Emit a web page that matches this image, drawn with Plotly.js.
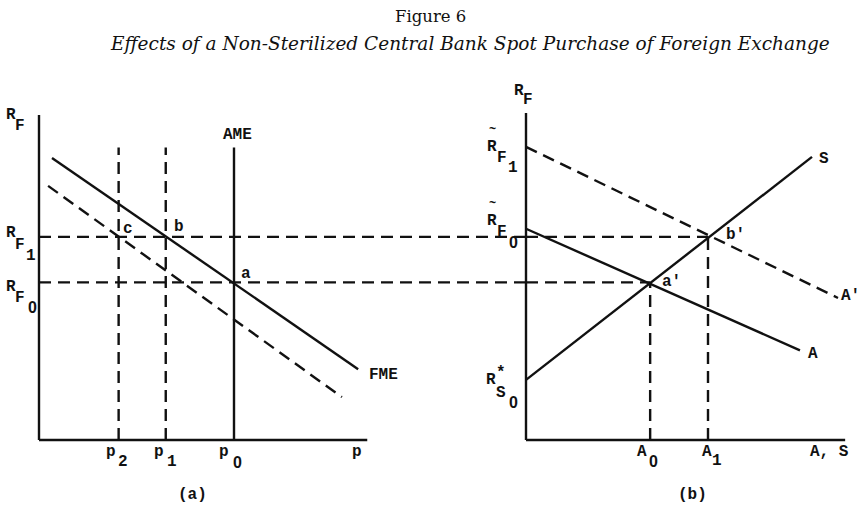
<!DOCTYPE html>
<html>
<head>
<meta charset="utf-8">
<script src="https://cdn.plot.ly/plotly-3.0.1.min.js"></script>
<style>html,body{margin:0;padding:0;background:#fff;}#chart{width:861px;height:505px;}</style>
</head>
<body>
<div id="chart"></div>
<script>
// ---------- data (economic units) ----------
// Panel (a)
var fmeX = [0.4, 9.82];
var fmeY = [8.68, 2.18];
var fmeShiftX = [0.28, 9.32];
var fmeShiftY = [7.82, 1.32];
var pValues = [2.45, 3.9, 6.0];          // p2, p1, p0 (AME)
var pLabels = ["p", "p", "p"];
var pSubs = ["2", "1", "0"];
var verticalTop = 9.0;
var rfValues = [4.85, 6.25];             // RF0, RF1
var axisATop = 10.0, axisARight = 10.1;
var leftRangeEnd = 487 / 32.5;           // reaches panel (b) axis
// Panel (b)
var sX = [0, 8.8];
var sY = [1.85, 8.71];
var aX = [0, 8.43];
var aY = [6.5, 2.76];
var aPrimeX = [0, 9.6];
var aPrimeY = [9.02, 4.37];
var aValues = [3.82, 5.6];               // A0, A1
var axisBTop = 10.06, axisBRight = 9.82;

// ---------- styles ----------
var LW = 2.4;
var DASH = "12px,7px";
var solid = {color: "#111", width: LW};
var dashed = {color: "#111", width: LW, dash: DASH};

function seg(x, y, line, xa) {
  return {x: x, y: y, mode: "lines", line: line, xaxis: xa || "x", yaxis: "y",
          hoverinfo: "skip", showlegend: false, cliponaxis: false};
}

var traces = [];
// panel (a) axes
traces.push(seg([0, 0], [0, axisATop], solid));
traces.push(seg([0, axisARight], [0, 0], solid));
// AME (p0) solid vertical
traces.push(seg([pValues[2], pValues[2]], [0, verticalTop], solid));
// p1, p2 dashed verticals
traces.push(seg([pValues[1], pValues[1]], [0, verticalTop], dashed));
traces.push(seg([pValues[0], pValues[0]], [0, verticalTop], dashed));
// FME and shifted FME
traces.push(seg(fmeX, fmeY, solid));
traces.push(seg(fmeShiftX, fmeShiftY, dashed));
// horizontal dashed lines RF0 / RF1 (panel a part)
rfValues.forEach(function (v) { traces.push(seg([0, leftRangeEnd], [v, v], dashed)); });

// panel (b) axes
traces.push(seg([0, 0], [0, axisBTop], solid, "x2"));
traces.push(seg([0, axisBRight], [0, 0], solid, "x2"));
traces.push(seg(sX, sY, solid, "x2"));
traces.push(seg(aX, aY, solid, "x2"));
traces.push(seg(aPrimeX, aPrimeY, dashed, "x2"));
// horizontal dashed continuation and A0/A1 verticals
traces.push(seg([0, aValues[0]], [rfValues[0], rfValues[0]], dashed, "x2"));
traces.push(seg([0, aValues[1]], [rfValues[1], rfValues[1]], dashed, "x2"));
traces.push(seg([aValues[0], aValues[0]], [0, rfValues[0]], dashed, "x2"));
traces.push(seg([aValues[1], aValues[1]], [0, rfValues[1]], dashed, "x2"));

// ---------- labels ----------
var W = 861, H = 505;
var MONO = "Liberation Mono, DejaVu Sans Mono, monospace";
var SERIF = "DejaVu Serif, Liberation Serif, serif";
var ZERO = "Liberation Sans, Arial, sans-serif";
function lab(text, px, py, size, fam, weight) {
  return {text: text, x: px / W, y: 1 - py / H, xref: "paper", yref: "paper",
          xanchor: "center", yanchor: "middle", showarrow: false,
          font: {family: fam || MONO, size: size || 16, color: "#111",
                 weight: weight || (fam ? "normal" : "bold")}};
}
function sub(text, px, py) {
  return text === "0" ? lab(text, px, py, 16, ZERO, "bold") : lab(text, px, py);
}
var ann = [];
ann.push(lab("Figure 6", 430, 16, 16.5, SERIF));
ann.push(lab("<i>Effects of a Non-Sterilized Central Bank Spot Purchase of Foreign Exchange</i>", 470, 44, 18.5, SERIF));
// panel (a)
ann.push(lab("R", 11, 115)); ann.push(lab("F", 20, 126));
ann.push(lab("R", 11, 233)); ann.push(lab("F", 20, 245)); ann.push(sub("1", 31, 256));
ann.push(lab("R", 11, 287)); ann.push(lab("F", 20, 298)); ann.push(sub("0", 32, 307));
var pLabX = [111, 159, 224], pSubX = [123, 172, 237];
for (var i = 0; i < 3; i++) { ann.push(lab(pLabels[i], pLabX[i], 452)); ann.push(sub(pSubs[i], pSubX[i], 462)); }
ann.push(lab("p", 357, 452));
ann.push(lab("(a)", 192, 495));
ann.push(lab("AME", 237, 135));
ann.push(lab("FME", 383, 375));
ann.push(lab("c", 128, 229));
ann.push(lab("b", 179, 227));
ann.push(lab("a", 246, 274));
// panel (b)
ann.push(lab("R", 519, 91)); ann.push(lab("F", 528, 100));
ann.push(lab("~", 492, 130, 12)); ann.push(lab("R", 492, 147)); ann.push(lab("F", 502, 158)); ann.push(sub("1", 513, 168));
ann.push(lab("~", 492, 204, 12)); ann.push(lab("R", 492, 221)); ann.push(lab("F", 502, 232)); ann.push(sub("0", 513, 242));
ann.push(lab("R", 491, 380)); ann.push(lab("*", 501, 373)); ann.push(lab("S", 501, 393)); ann.push(sub("0", 513, 402));
ann.push(lab("A", 642, 452)); ann.push(sub("0", 653, 461));
ann.push(lab("A", 707, 452)); ann.push(sub("1", 717, 461));
ann.push(lab("A, S", 829, 452));
ann.push(lab("(b)", 692, 495));
ann.push(lab("S", 824, 159));
ann.push(lab("A", 813, 354));
ann.push(lab("A'", 850, 296));
ann.push(lab("b'", 735, 235));
ann.push(lab("a'", 671, 282));

var layout = {
  width: W, height: H,
  margin: {l: 0, r: 0, t: 0, b: 0},
  paper_bgcolor: "#fff", plot_bgcolor: "rgba(0,0,0,0)",
  showlegend: false,
  xaxis: {domain: [0, 526 / W], range: [-39 / 32.5, 487 / 32.5], visible: false, fixedrange: true},
  xaxis2: {domain: [470 / W, 1], range: [-56 / 32.5, 335 / 32.5], visible: false, anchor: "y", fixedrange: true},
  yaxis: {domain: [0, 1], range: [-65 / 32.5, 440 / 32.5], visible: false, fixedrange: true},
  annotations: ann
};
Plotly.newPlot("chart", traces, layout, {displayModeBar: false, staticPlot: true});
</script>
</body>
</html>
